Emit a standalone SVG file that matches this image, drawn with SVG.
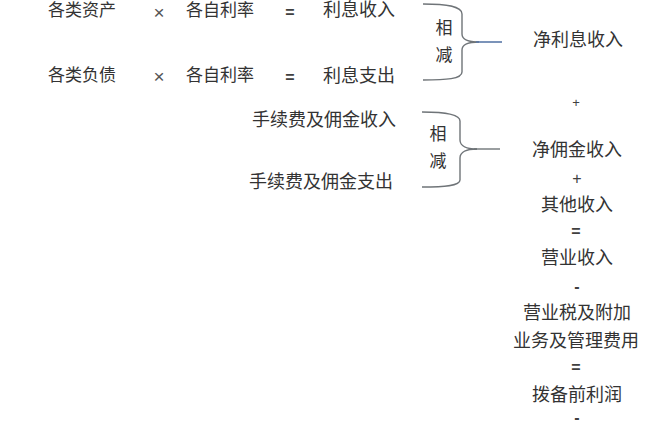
<svg xmlns="http://www.w3.org/2000/svg" width="660" height="427" viewBox="0 0 660 427">
<style>
text{font-family:"Liberation Serif","Noto Sans CJK SC",serif;fill:#333333;text-anchor:middle;dominant-baseline:central}
.l{font-size:17px}
.m{font-size:18px}
.op{font-family:"Liberation Sans","Noto Sans CJK SC",sans-serif;font-size:16px;fill:#404040}
.x{font-size:19px;fill:#555555}
.b{font-weight:bold}
.br{fill:none;stroke:#6f7478;stroke-width:1.4}
.tip{fill:none;stroke:#5a78a8;stroke-width:1.6}
</style>
<rect width="660" height="427" fill="#ffffff"/>
<g id="connectors">
<path class="br" d="M423,4 C446,4 462,6 462,14 L462,34 C462,40 469,42 479,42"/>
<path class="br" d="M479,42 C469,42 462,44 462,50 L462,72 C462,79 446,80 423,80"/>
<path class="tip" d="M476,42 L502,42"/>
<path class="br" d="M422,112 C444,112 460,114 460,121 L460,140 C460,146 467,149 477,149"/>
<path class="br" d="M477,149 C467,149 460,152 460,158 L460,180 C460,186 444,187 422,187"/>
<path class="br" d="M474,149 L500,149"/>
</g>
<g id="row1">
<g id="assets"><text class="l" x="82" y="10">各类资产</text></g>
<g id="times1"><text class="op x" x="159" y="12">×</text></g>
<g id="rate1"><text class="l" x="220" y="10">各自利率</text></g>
<g id="eq1"><text class="op b" x="290" y="12">=</text></g>
<g id="interest-income"><text class="m" x="359" y="10">利息收入</text></g>
</g>
<g id="row2">
<g id="liabilities"><text class="l" x="82" y="75">各类负债</text></g>
<g id="times2"><text class="op x" x="159" y="76">×</text></g>
<g id="rate2"><text class="l" x="220" y="75">各自利率</text></g>
<g id="eq2"><text class="op b" x="290" y="77">=</text></g>
<g id="interest-expense"><text class="m" x="359" y="76">利息支出</text></g>
</g>
<g id="subtract1"><text class="l" x="444" y="28">相</text><text class="l" x="444" y="55">减</text></g>
<g id="net-interest"><text class="m" x="578" y="40">净利息收入</text></g>
<g id="plus1"><text class="op" x="576" y="102" style="font-size:13px">+</text></g>
<g id="fee-income"><text class="m" x="324" y="120">手续费及佣金收入</text></g>
<g id="fee-expense"><text class="m" x="321" y="182">手续费及佣金支出</text></g>
<g id="subtract2"><text class="l" x="438" y="134">相</text><text class="l" x="438" y="161">减</text></g>
<g id="net-fee"><text class="m" x="577" y="150">净佣金收入</text></g>
<g id="plus2"><text class="op" x="577" y="178">+</text></g>
<g id="other-income"><text class="m" x="577" y="205">其他收入</text></g>
<g id="eq3"><text class="op b" x="576" y="231">=</text></g>
<g id="operating-income"><text class="m" x="577" y="258">营业收入</text></g>
<g id="minus1"><text class="op b" x="577" y="286">-</text></g>
<g id="tax"><text class="m" x="577" y="313">营业税及附加</text></g>
<g id="admin"><text class="m" x="576" y="341">业务及管理费用</text></g>
<g id="eq4"><text class="op b" x="576" y="367">=</text></g>
<g id="ppop"><text class="m" x="577" y="395">拨备前利润</text></g>
<g id="minus2"><text class="op b" x="577" y="417">-</text></g>
</svg>
